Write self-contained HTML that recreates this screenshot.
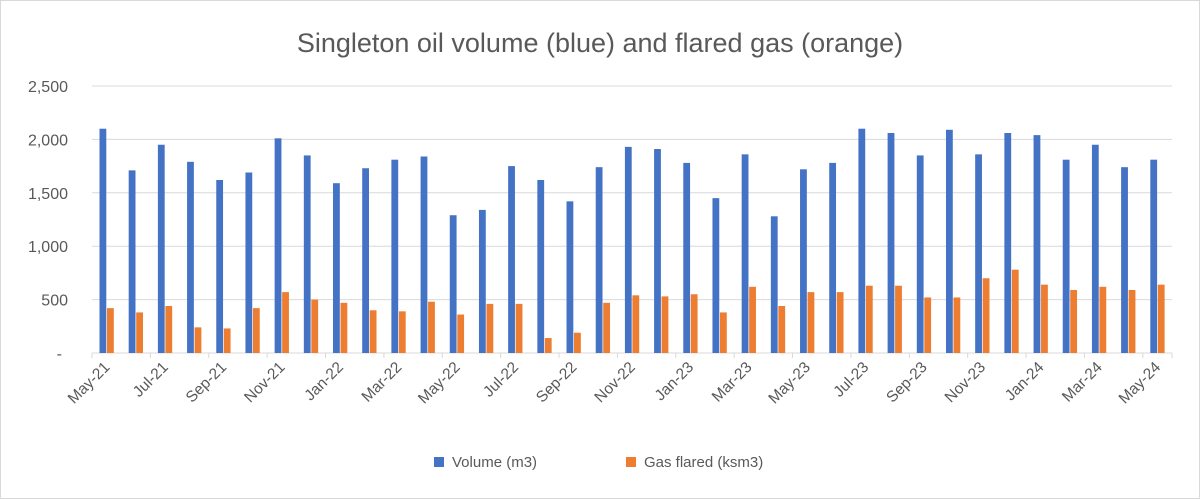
<!DOCTYPE html>
<html><head><meta charset="utf-8"><style>
html,body{margin:0;padding:0;background:#fff;}
svg{display:block;font-family:"Liberation Sans",sans-serif;}
</style></head><body>
<svg id="s" width="1200" height="499" viewBox="0 0 1200 499" xmlns="http://www.w3.org/2000/svg">
<rect x="0.5" y="0.5" width="1199" height="498" fill="#fff" stroke="#d9d9d9"/>
<text x="600" y="52" text-anchor="middle" font-size="27" fill="#595959">Singleton oil volume (blue) and flared gas (orange)</text>
<g id="g"></g>
<rect x="434" y="457" width="10" height="10" fill="#4472C4"/>
<text x="452" y="467" font-size="15" fill="#595959">Volume (m3)</text>
<rect x="626" y="457" width="10" height="10" fill="#ED7D31"/>
<text x="644" y="467" font-size="15" fill="#595959">Gas flared (ksm3)</text>
</svg>
<script>
var B=[2100,1710,1950,1790,1620,1690,2010,1850,1590,1730,1810,1840,1290,1340,1750,1620,1420,1740,1930,1910,1780,1450,1860,1280,1720,1780,2100,2060,1850,2090,1860,2060,2040,1810,1950,1740,1810];
var O=[420,380,440,240,230,420,570,500,470,400,390,480,360,460,460,140,190,470,540,530,550,380,620,440,570,570,630,630,520,520,700,780,640,590,620,590,640];
var M=["Jan","Feb","Mar","Apr","May","Jun","Jul","Aug","Sep","Oct","Nov","Dec"];
var s="",x0=92,x1=1172,y0=353,k=267/2500,w=(x1-x0)/37;
for(var v=500;v<=2500;v+=500){var y=y0-v*k;s+='<line x1="'+x0+'" x2="'+x1+'" y1="'+y+'" y2="'+y+'" stroke="#d9d9d9"/>';
s+='<text x="68" y="'+(y+6)+'" text-anchor="end" font-size="16" fill="#595959">'+v.toLocaleString("en-US")+'</text>';}
s+='<text x="62" y="359" text-anchor="end" font-size="16" fill="#595959">-</text>';
s+='<line x1="'+x0+'" x2="'+x1+'" y1="'+y0+'" y2="'+y0+'" stroke="#d9d9d9"/>';
for(var i=0;i<37;i++){var cx=x0+w*i;
s+='<rect x="'+(cx+7.5)+'" y="'+(y0-B[i]*k)+'" width="6.8" height="'+(B[i]*k)+'" fill="#4472C4"/>';
s+='<rect x="'+(cx+15)+'" y="'+(y0-O[i]*k)+'" width="6.8" height="'+(O[i]*k)+'" fill="#ED7D31"/>';
if(i%2==0){s+='<line x1="'+cx+'" x2="'+cx+'" y1="'+y0+'" y2="'+(y0+5)+'" stroke="#d9d9d9"/>';
var mi=(4+i)%12,yr=21+Math.floor((4+i)/12);var lx=cx+w/2+4,ly=368;
s+='<text x="'+lx+'" y="'+ly+'" text-anchor="end" font-size="15.5" fill="#595959" transform="rotate(-45 '+lx+' '+ly+')">'+M[mi]+'-'+yr+'</text>';}}
s+='<line x1="'+x1+'" x2="'+x1+'" y1="'+y0+'" y2="'+(y0+5)+'" stroke="#d9d9d9"/>';
document.getElementById("g").innerHTML=s;
</script>
</body></html>
